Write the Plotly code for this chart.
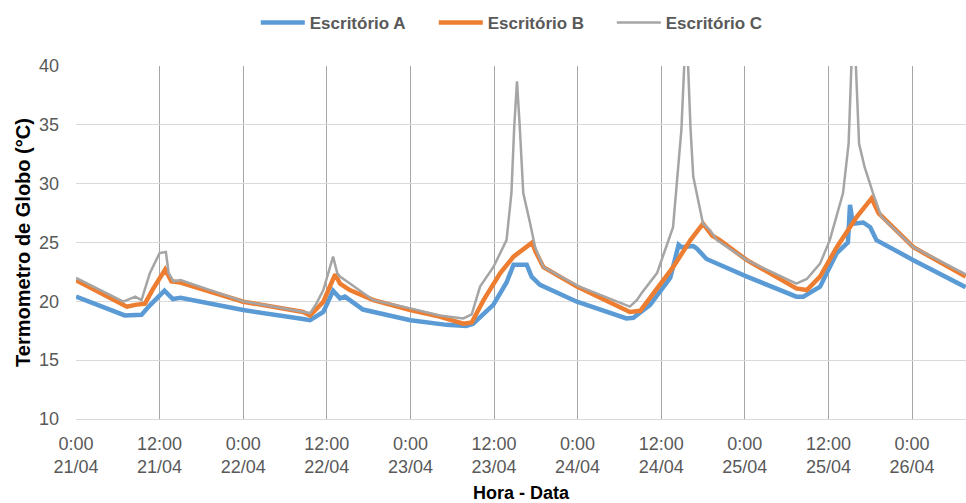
import pandas as pd
import plotly.graph_objects as go

# Globe thermometer readings per office: hours since 21/04 0:00 and temperature (°C)
A_HOURS = [0, 3, 7, 9.4, 10.5, 12.7, 13.9, 15, 24, 32.6, 33.6, 35.5, 36.9, 37.9, 38.6,
           41.2, 48, 53.2, 56, 57, 59.9, 61.8, 62.8, 64.7, 65.4, 66.6, 71.9, 79, 80,
           82.4, 85.3, 86.5, 86.9, 88.6, 89.1, 90.5, 92.4, 96.3, 103.4, 104.4, 106.8,
           109.2, 110.8, 111.1, 111.5, 113, 114, 114.9, 120.2, 127.7]
A_VALUES = [20.4, 19.7, 18.8, 18.85, 19.6, 20.9, 20.2, 20.3, 19.26, 18.5, 18.4, 19.1, 20.9,
            20.25, 20.4, 19.3, 18.4, 18.0, 17.9, 18.1, 19.7, 21.6, 23.1, 23.1, 22.1, 21.4,
            19.97, 18.55, 18.6, 19.7, 22.0, 24.8, 24.6, 24.7, 24.5, 23.6, 23.1, 22.1, 20.4,
            20.4, 21.25, 24.1, 25.0, 28.2, 26.6, 26.7, 26.3, 25.2, 23.5, 21.2]

B_HOURS = [0, 7.3, 8.5, 9.9, 11, 12.8, 13.7, 15, 24, 32.6, 33.6, 35.5, 37.2, 37.9, 39.3,
           42.7, 48, 52.2, 55.6, 56.8, 58.5, 60.9, 62.8, 65.2, 65.5, 65.9, 67.1, 71.9,
           79.5, 81, 82.9, 85.7, 88.2, 90, 91.3, 92.4, 96.3, 103.4, 104.9, 106.8, 109.2,
           112.1, 114.2, 115.2, 120.2, 127.7]
B_VALUES = [21.8, 19.55, 19.7, 19.8, 21.0, 22.7, 21.7, 21.6, 19.97, 19.1, 18.8, 19.97, 22.3,
            21.5, 20.96, 20.1, 19.26, 18.7, 18.1, 18.2, 20.1, 22.4, 23.8, 24.8, 25.0, 24.3,
            22.9, 21.25, 19.1, 19.2, 20.7, 22.9, 25.2, 26.6, 25.6, 25.2, 23.5, 21.1, 20.96,
            22.1, 24.6, 27.2, 28.75, 27.5, 24.6, 22.1]

C_HOURS = [0, 6.8, 8.5, 9.4, 10.6, 12, 12.9, 13.3, 14, 15, 24, 31.7, 33.6, 34.5, 35.5,
           36.9, 37.5, 37.9, 42.7, 48, 52.2, 55.6, 56.8, 58, 59.9, 61.8, 62.5, 62.9, 63.3,
           63.7, 64.2, 65.2, 65.9, 67.1, 72.1, 79.5, 80.5, 81.2, 83.4, 85.7, 86.9, 87.6,
           88.2, 88.6, 90, 91, 92, 96.3, 103.4, 104.9, 106.8, 108.2, 110.1, 110.9, 111.6,
           112.4, 113.2, 114.4, 115.6, 120.2, 127.7]
C_VALUES = [22.0, 19.97, 20.4, 20.1, 22.4, 24.1, 24.2, 22.4, 21.7, 21.8, 20.0, 19.2, 19.0,
            19.8, 20.96, 23.8, 22.4, 22.1, 20.1, 19.4, 18.8, 18.55, 18.9, 21.25, 22.9, 25.2,
            29.2, 34.8, 38.7, 34.8, 29.2, 26.6, 24.6, 22.9, 21.3, 19.55, 20.1, 20.7, 22.4,
            26.3, 34.6, 44.0, 34.8, 30.6, 26.6, 26.06, 25.2, 23.5, 21.5, 21.9, 23.2, 25.2,
            29.2, 33.4, 45.0, 33.4, 31.4, 29.2, 27.2, 24.6, 22.3]

SERIES_NAMES = ["Escritório A", "Escritório B", "Escritório C"]
SERIES_COLORS = ["#5B9BD5", "#ED7D31", "#A5A5A5"]
SERIES_WIDTHS = [4.5, 4.5, 2.5]

START = pd.Timestamp("2017-04-21 00:00")
TICK_TIMES = pd.date_range(START, periods=11, freq="12h")
TICK_TEXT = [f"{t.hour}:{t.minute:02d}<br>{t:%d/%m}" for t in TICK_TIMES]
X_END_HOURS = 127.75
Y_TICKS = [10, 15, 20, 25, 30, 35, 40]


def to_times(hours):
    return [START + pd.Timedelta(hours=h) for h in hours]


fig = go.Figure()
for hours, values, name, color, width in zip(
        [A_HOURS, B_HOURS, C_HOURS], [A_VALUES, B_VALUES, C_VALUES],
        SERIES_NAMES, SERIES_COLORS, SERIES_WIDTHS):
    fig.add_trace(go.Scatter(
        x=to_times(hours), y=values, name=name, mode="lines",
        line=dict(color=color, width=width),
    ))

tick_font = dict(family="Liberation Sans, Arial, sans-serif", size=18, color="#595959")
x_title_font = dict(family="Liberation Sans, Arial, sans-serif", size=18, color="#000000",
                    weight="bold")
y_title_font = dict(family="Liberation Sans, Arial, sans-serif", size=20, color="#000000",
                    weight="bold")

fig.update_layout(
    width=966, height=503, autosize=False,
    margin=dict(l=76, r=0, t=66, b=84),
    paper_bgcolor="white", plot_bgcolor="white",
    showlegend=True,
    legend=dict(
        orientation="h", x=0.502, xanchor="center", y=0.99, yref="container",
        yanchor="top", font=dict(family="Liberation Sans Narrow, Liberation Sans, sans-serif",
                                 size=17, color="#595959", weight="bold"),
        itemwidth=44, entrywidth=119, entrywidthmode="pixels", tracegroupgap=0,
    ),
    xaxis=dict(
        type="date",
        range=[START, START + pd.Timedelta(hours=X_END_HOURS)],
        tickvals=TICK_TIMES, ticktext=TICK_TEXT,
        tickfont=tick_font, ticks="",
        ticklabelstandoff=8,
        showgrid=True, gridcolor="#A6A6A6", gridwidth=1.3,
        showline=True, linecolor="#D9D9D9", linewidth=1.3,
        zeroline=False,
        title=dict(text="Hora - Data", font=x_title_font, standoff=12),
    ),
    yaxis=dict(
        range=[10, 40], tickvals=Y_TICKS,
        tickfont=tick_font, ticks="",
        showgrid=True, gridcolor="#D9D9D9", gridwidth=1.3,
        zeroline=False, showline=False,
        ticklabelstandoff=16,
        title=dict(text="Termometro de Globo (°C)", font=y_title_font, standoff=2),
    ),
)

fig.write_html("out.html")
